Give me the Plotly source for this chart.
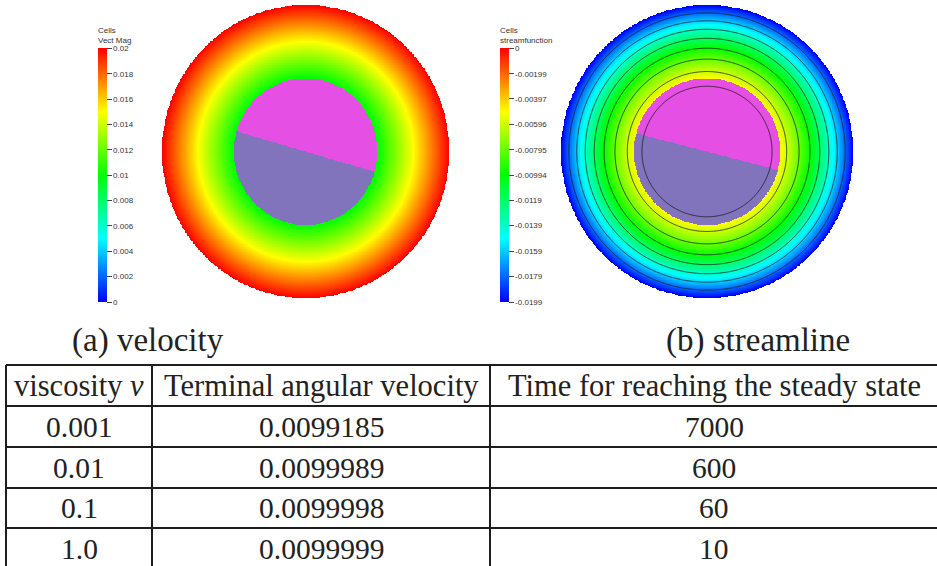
import numpy as np
import plotly.graph_objects as go

# ---- colour-bar ticks -------------------------------------------------------
VEL_TICKS = [0.02, 0.018, 0.016, 0.014, 0.012, 0.01, 0.008, 0.006, 0.004, 0.002, 0.0]
VEL_TICKTEXT = ["0.02", "0.018", "0.016", "0.014", "0.012", "0.01",
                "0.008", "0.006", "0.004", "0.002", "0"]
PSI_TICKS = [0.0, -0.00199, -0.00397, -0.00596, -0.00795, -0.00994,
             -0.0119, -0.0139, -0.0159, -0.0179, -0.0199]
PSI_TICKTEXT = ["0", "-0.00199", "-0.00397", "-0.00596", "-0.00795", "-0.00994",
                "-0.0119", "-0.0139", "-0.0159", "-0.0179", "-0.0199"]

# ---- table ------------------------------------------------------------------
HEADERS = ["viscosity <i>ν</i>", "Terminal angular velocity",
           "Time for reaching the steady state"]
VISCOSITY = ["0.001", "0.01", "0.1", "1.0"]
TERMINAL_OMEGA = ["0.0099185", "0.0099989", "0.0099998", "0.0099999"]
STEADY_TIME = ["7000", "600", "60", "10"]
CAPTIONS = ["(a) velocity", "(b) streamline"]

# ---- rigid-body rotation of the fluid annulus --------------------------------
R_OUT = 2.0            # container radius
R_IN = 1.0             # radius of the immersed solid disk
OMEGA = 0.01           # angular velocity
SPLIT_DEG = [-16.0, -14.5]   # orientation of the marker line across the solid

RAINBOW = [[0.0, "rgb(0,0,255)"], [0.25, "rgb(0,255,255)"], [0.5, "rgb(0,255,0)"],
           [0.75, "rgb(255,255,0)"], [1.0, "rgb(255,0,0)"]]
BODY_SCALE = [[0.0, "#8273BD"], [0.5, "#8273BD"], [0.5, "#E64FE4"], [1.0, "#E64FE4"]]

n = 401
g = np.linspace(-R_OUT, R_OUT, n)
X, Y = np.meshgrid(g, g)
r = np.hypot(X, Y)
fluid = (r <= R_OUT) & (r >= R_IN)

speed = np.where(fluid, OMEGA * r, np.nan)
psi_full = -OMEGA * r ** 2 / 2.0
psi = np.where(fluid, psi_full, np.nan)


def body(split_deg):
    a = np.deg2rad(split_deg)
    side = (-X * np.sin(a) + Y * np.cos(a)) > 0
    return np.where(r < R_IN, side.astype(float), np.nan)


W, H = 937, 566
TEXT = "#222222"
SERIF = "Liberation Serif"
SANS = "Liberation Sans"


def px_x(p):
    return p / W


def px_y(p):
    return 1 - p / H


def colorbar(title, ticks, ticktext, left_px):
    return dict(
        title=dict(text=title, side="top", font=dict(size=8, family=SANS, color="#333")),
        x=px_x(left_px), xanchor="left", xpad=0,
        y=px_y(163), yanchor="middle", ypad=0,
        len=278, lenmode="pixels", thickness=9, thicknessmode="pixels",
        outlinewidth=0, ticks="outside", ticklen=5, tickwidth=1, tickcolor="#444",
        tickvals=ticks, ticktext=ticktext,
        tickfont=dict(size=8, family=SANS, color="#333"),
    )


fig = go.Figure()

# (a) velocity magnitude
fig.add_trace(go.Heatmap(x=g, y=g, z=speed, zmin=0.0, zmax=0.02, colorscale=RAINBOW,
                         colorbar=colorbar("Cells<br>Vect Mag", VEL_TICKS, VEL_TICKTEXT, 98),
                         xaxis="x", yaxis="y", hoverinfo="skip"))
fig.add_trace(go.Heatmap(x=g, y=g, z=body(SPLIT_DEG[0]), zmin=0, zmax=1, colorscale=BODY_SCALE,
                         showscale=False, xaxis="x", yaxis="y", hoverinfo="skip"))

# (b) stream function
fig.add_trace(go.Heatmap(x=g, y=g, z=psi, zmin=PSI_TICKS[-1], zmax=PSI_TICKS[0], colorscale=RAINBOW,
                         colorbar=colorbar("Cells<br>streamfunction", PSI_TICKS, PSI_TICKTEXT, 500),
                         xaxis="x2", yaxis="y2", hoverinfo="skip"))
fig.add_trace(go.Heatmap(x=g, y=g, z=body(SPLIT_DEG[1]), zmin=0, zmax=1, colorscale=BODY_SCALE,
                         showscale=False, xaxis="x2", yaxis="y2", hoverinfo="skip"))
fig.add_trace(go.Contour(x=g, y=g, z=psi_full, showscale=False, hoverinfo="skip",
                         contours=dict(coloring="none", start=PSI_TICKS[-2], end=PSI_TICKS[1],
                                       size=PSI_TICKS[0] - PSI_TICKS[1]),
                         line=dict(color="#1a1a1a", width=0.8),
                         xaxis="x2", yaxis="y2"))

hidden = dict(visible=False, showgrid=False, zeroline=False, fixedrange=True)
fig.update_layout(
    width=W, height=H, margin=dict(l=0, r=0, t=0, b=0),
    paper_bgcolor="white", plot_bgcolor="rgba(0,0,0,0)", showlegend=False,
    xaxis=dict(domain=[px_x(162), px_x(449)], range=[-R_OUT, R_OUT], **hidden),
    yaxis=dict(domain=[px_y(298), px_y(5)], range=[-R_OUT, R_OUT], **hidden),
    xaxis2=dict(domain=[px_x(561), px_x(853)], range=[-R_OUT, R_OUT], **hidden),
    yaxis2=dict(domain=[px_y(298), px_y(5)], range=[-R_OUT, R_OUT], **hidden),
    # table area measured in pixels from the top rule of the table
    xaxis3=dict(domain=[0, 1], range=[0, W], **hidden),
    yaxis3=dict(domain=[0, 204 / H], range=[201, -3], **hidden),
)

# captions
for text, cx in zip(CAPTIONS, [148, 758]):
    fig.add_annotation(x=px_x(cx), y=px_y(340), xref="paper", yref="paper", text=text,
                       showarrow=False, xanchor="center", yanchor="middle",
                       font=dict(family=SERIF, size=33, color=TEXT))

# table grid
COL_EDGES = [6, 152, 490, 938]
ROW_EDGES = [0, 41, 82, 123, 163, 204]
for yy in ROW_EDGES:
    fig.add_shape(type="line", xref="x3", yref="y3", x0=COL_EDGES[0], x1=COL_EDGES[-1],
                  y0=yy, y1=yy, line=dict(color="#1e1e1e", width=2))
for xx in COL_EDGES:
    fig.add_shape(type="line", xref="x3", yref="y3", x0=xx, x1=xx,
                  y0=ROW_EDGES[0], y1=ROW_EDGES[-1], line=dict(color="#1e1e1e", width=2))

rows = [HEADERS] + [list(t) for t in zip(VISCOSITY, TERMINAL_OMEGA, STEADY_TIME)]
for i, row in enumerate(rows):
    yc = (ROW_EDGES[i] + ROW_EDGES[i + 1]) / 2
    size = 30.5 if i == 0 else 29.5
    for j, text in enumerate(row):
        xc = (COL_EDGES[j] + COL_EDGES[j + 1]) / 2
        fig.add_annotation(x=xc, y=yc, xref="x3", yref="y3", text=text, showarrow=False,
                           xanchor="center", yanchor="middle",
                           font=dict(family=SERIF, size=size, color=TEXT))

fig.write_html("out.html")
